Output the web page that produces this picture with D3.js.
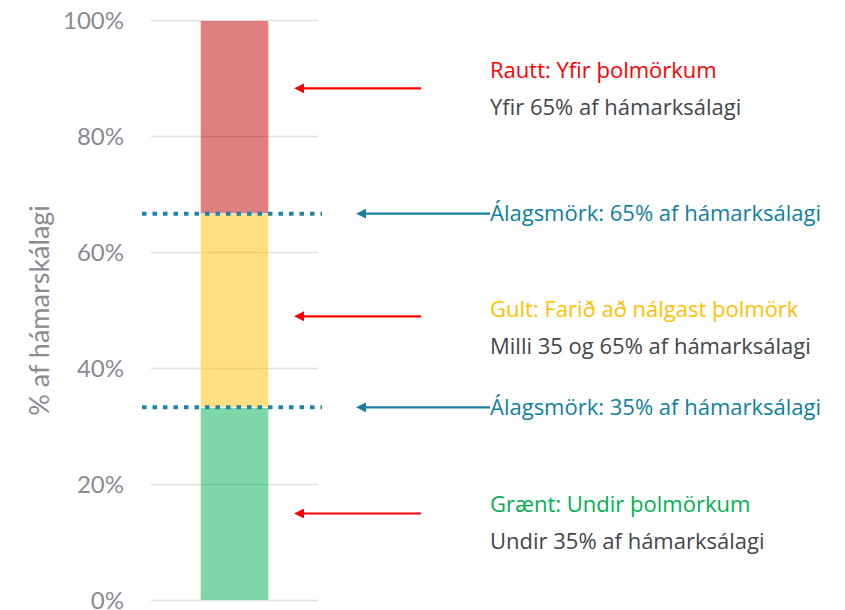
<!DOCTYPE html>
<html>
<head>
<meta charset="utf-8">
<script src="https://cdn.jsdelivr.net/npm/d3@7"></script>
<style>
  body { margin: 0; background: #fff; }
  svg text { font-family: Lato, "Open Sans", sans-serif; }
  svg text.note { font-family: "Open Sans", Lato, sans-serif; }
</style>
</head>
<body>
<svg width="845" height="610"></svg>
<script>
// zones stacked from 0 to 100%
const zones = ["Grænt", "Gult", "Rautt"];
const zoneSizes = [33.3, 33.4, 33.3];
const zoneColors = ["#00b050", "#ffc000", "#c00000"];
const yTicks = [0, 20, 40, 60, 80, 100];

// dotted limit lines
const limits = [33.3, 66.7];
const limitLabels = ["Álagsmörk: 35% af hámarksálagi", "Álagsmörk: 65% af hámarksálagi"];

// red arrows + two-line notes
const noteValues = [88.3, 49, 15];
const noteTitles = ["Rautt: Yfir þolmörkum", "Gult: Farið að nálgast þolmörk", "Grænt: Undir þolmörkum"];
const noteTexts = ["Yfir 65% af hámarksálagi", "Milli 35 og 65% af hámarksálagi", "Undir 35% af hámarksálagi"];
const noteColors = ["#ff0000", "#ffc000", "#00b050"];
const titleShift = [-10, 1, -2];

const svg = d3.select("svg");
const margin = {top: 20.5, left: 151};
const plotW = 167, plotH = 580;

const y = d3.scaleLinear().domain([0, 100]).range([margin.top + plotH, margin.top]);
const x = d3.scaleBand().domain(["bar"]).range([margin.left, margin.left + plotW]).padding(0.42);

const defs = svg.append("defs");
function marker(id, color) {
  defs.append("marker")
    .attr("id", id)
    .attr("viewBox", "0 0 10 10")
    .attr("refX", 1).attr("refY", 5)
    .attr("markerWidth", 4.5).attr("markerHeight", 4.5)
    .attr("markerUnits", "strokeWidth")
    .attr("orient", "auto-start-reverse")
    .append("path").attr("d", "M0,0 L10,5 L0,10 Z").attr("fill", color);
}
marker("arrRed", "#ff0000");
marker("arrBlue", "#1a7f9e");

// grid
svg.append("g").selectAll("line")
  .data(yTicks).enter().append("line")
    .attr("x1", margin.left).attr("x2", margin.left + plotW)
    .attr("y1", d => y(d)).attr("y2", d => y(d))
    .attr("stroke", "#e0e0e0").attr("stroke-width", 1.3);

// y axis labels
const yAxis = svg.append("g")
  .attr("transform", `translate(${margin.left - 3},0)`)
  .call(d3.axisLeft(y).tickValues(yTicks).tickFormat(d => d + "%").tickSize(0).tickPadding(24));
yAxis.select(".domain").remove();
yAxis.selectAll("text")
  .attr("fill", "#8a8a92")
  .style("font-size", "24px");

svg.append("text")
  .attr("transform", `translate(49, ${y(50)}) rotate(-90)`)
  .attr("text-anchor", "middle")
  .attr("fill", "#8a8a92")
  .style("font-size", "27px")
  .text("% af hámarskálagi");

// stacked bar
let acc = 0;
const segs = zoneSizes.map((v, i) => { const s = {y0: acc, y1: acc + v, c: zoneColors[i]}; acc += v; return s; });
svg.append("g").selectAll("rect")
  .data(segs).enter().append("rect")
    .attr("x", x("bar"))
    .attr("width", x.bandwidth())
    .attr("y", d => y(d.y1))
    .attr("height", d => y(d.y0) - y(d.y1))
    .attr("fill", d => d.c)
    .attr("fill-opacity", 0.5)
    .attr("stroke", "#ffffff")
    .attr("stroke-opacity", 0.6);

// dotted limit lines
svg.append("g").selectAll("line")
  .data(limits).enter().append("line")
    .attr("x1", 142).attr("x2", 322)
    .attr("y1", d => y(d)).attr("y2", d => y(d))
    .attr("stroke", "#1a85a6")
    .attr("stroke-width", 4)
    .attr("stroke-dasharray", "4.5,6");

// blue arrows and labels
const lim = svg.append("g").selectAll("g").data(limits).enter().append("g");
lim.append("line")
  .attr("x1", 490).attr("x2", 365)
  .attr("y1", d => y(d)).attr("y2", d => y(d))
  .attr("stroke", "#1a7f9e").attr("stroke-width", 2.2)
  .attr("marker-end", "url(#arrBlue)");
lim.append("text")
  .attr("class", "note")
  .attr("x", 490).attr("y", d => y(d) + 7.5)
  .attr("fill", "#0e7fa0")
  .style("font-size", "22px")
  .text((d, i) => limitLabels[i]);

// red arrows and notes
const notes = svg.append("g").selectAll("g").data(noteValues).enter().append("g");
notes.append("line")
  .attr("x1", 421).attr("x2", 303)
  .attr("y1", d => y(d)).attr("y2", d => y(d))
  .attr("stroke", "#ff0000").attr("stroke-width", 2.2)
  .attr("marker-end", "url(#arrRed)");
notes.append("text")
  .attr("class", "note")
  .attr("x", 490).attr("y", (d, i) => y(d) + titleShift[i])
  .attr("fill", (d, i) => noteColors[i])
  .style("font-size", "22px")
  .text((d, i) => noteTitles[i]);
notes.append("text")
  .attr("class", "note")
  .attr("x", 490).attr("y", (d, i) => y(d) + titleShift[i] + 37)
  .attr("fill", "#45454a")
  .style("font-size", "22px")
  .text((d, i) => noteTexts[i]);
</script>
</body>
</html>
